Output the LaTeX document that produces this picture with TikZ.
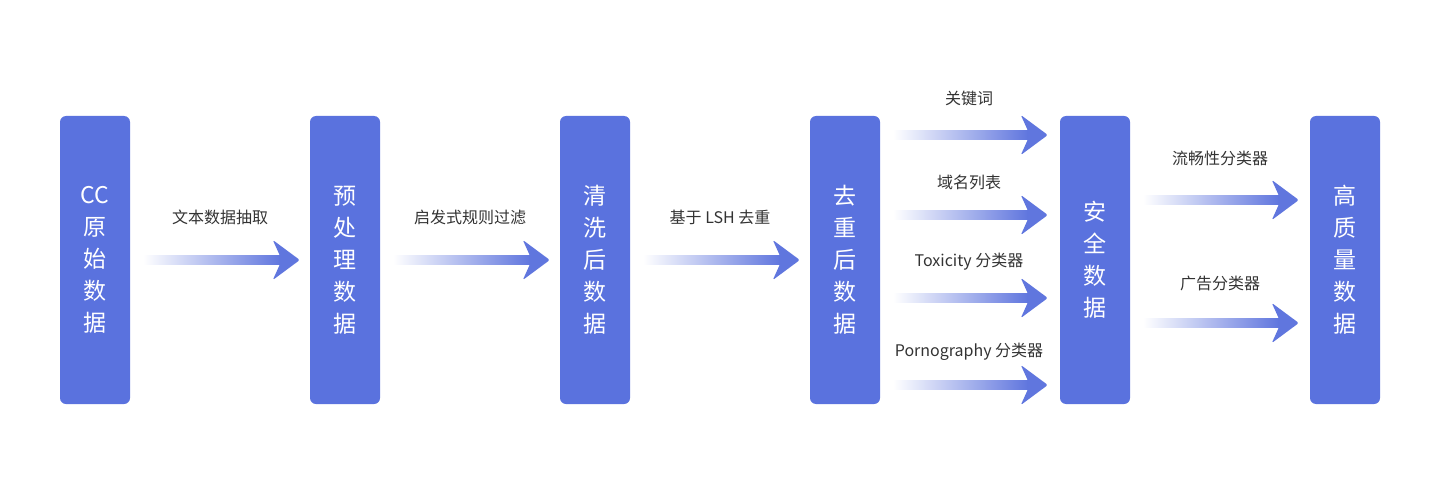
\documentclass[tikz,border=0pt]{standalone}
\usepackage{fontspec}
\setmainfont{Noto Sans CJK SC}
\usetikzlibrary{calc}
\definecolor{boxblue}{HTML}{5A72DE}
\definecolor{arrowblue}{HTML}{6076DE}
\definecolor{labelgrey}{HTML}{333333}
\newcommand{\flowarrow}[2]{%
  \shade[left color=white,right color=arrowblue] ($(#1)+(0,-4.5)$) rectangle ($(#2)+(-20,4.5)$);
  \fill[arrowblue,rounded corners=1.5pt] (#2) -- ($(#2)+(-27,-20)$) -- ($(#2)+(-20,-4.5)$) -- ($(#2)+(-20,4.5)$) -- ($(#2)+(-27,20)$) -- cycle;
}
\begin{document}
\begin{tikzpicture}[x=1pt,y=-1pt]
            \tikzstyle{etape}=[rectangle,fill=boxblue,rounded corners=6pt,minimum width=70pt,minimum height=288pt,inner sep=0pt,text=white,align=center,font=\fontsize{23}{32}\selectfont]
            \tikzset{legende/.style = {text=labelgrey,font=\fontsize{16}{18}\selectfont,inner sep=0pt}}
            \useasboundingbox (0,0) rectangle (1439,500);
            \node[etape] (1) at (95,260)   {CC\\原\\始\\数\\据};
            \node[etape] (2) at (345,260)  {预\\处\\理\\数\\据};
            \node[etape] (3) at (595,260)  {清\\洗\\后\\数\\据};
            \node[etape] (4) at (845,260)  {去\\重\\后\\数\\据};
            \node[etape] (5) at (1095,260) {安\\全\\数\\据};
            \node[etape] (6) at (1345,260) {高\\质\\量\\数\\据};
            \coordinate (a) at (143,260);
            \coordinate (b) at (393,260);
            \coordinate (c) at (643,260);
            \coordinate (d1) at (893,135);
            \coordinate (d2) at (893,215);
            \coordinate (d3) at (893,298);
            \coordinate (d4) at (893,385);
            \coordinate (e1) at (1143,200);
            \coordinate (e2) at (1143,323);
            \flowarrow{a}{$(a -| 2.west)+(-10,0)$}
            \flowarrow{b}{$(b -| 3.west)+(-10,0)$}
            \flowarrow{c}{$(c -| 4.west)+(-10,0)$}
            \flowarrow{d1}{$(d1 -| 5.west)+(-12,0)$}
            \flowarrow{d2}{$(d2 -| 5.west)+(-12,0)$}
            \flowarrow{d3}{$(d3 -| 5.west)+(-12,0)$}
            \flowarrow{d4}{$(d4 -| 5.west)+(-12,0)$}
            \flowarrow{e1}{$(e1 -| 6.west)+(-11,0)$}
            \flowarrow{e2}{$(e2 -| 6.west)+(-11,0)$}
            \node[legende] (la) at (220,217) {文本数据抽取};
            \node[legende] (lb) at (470,217) {启发式规则过滤};
            \node[legende] (lc) at (720,217) {基于 LSH 去重};
            \node[legende] (ld1) at (969,98)  {关键词};
            \node[legende] (ld2) at (969,182) {域名列表};
            \node[legende] (ld3) at (969,262) {Toxicity 分类器};
            \node[legende] (ld4) at (969,352) {Pornography 分类器};
            \node[legende] (le1) at (1220,158) {流畅性分类器};
            \node[legende] (le2) at (1220,283) {广告分类器};
        \end{tikzpicture}
\end{document}
